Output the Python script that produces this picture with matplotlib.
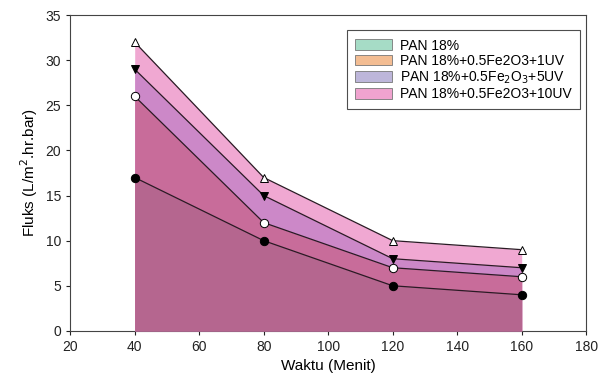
import numpy as np
import matplotlib.pyplot as plt
from matplotlib.patches import Patch

plt.rcParams['font.family'] = ['Liberation Sans', 'DejaVu Sans']

waktu = [40, 80, 120, 160]
labels = ['PAN 18%', 'PAN 18%+0.5Fe2O3+1UV', 'PAN 18%+0.5Fe$_2$O$_3$+5UV',
          'PAN 18%+0.5Fe2O3+10UV']
fluks_pan = [17, 10, 5, 4]
fluks_1uv = [26, 12, 7, 6]
fluks_5uv = [29, 15, 8, 7]
fluks_10uv = [32, 17, 10, 9]

fill_colors = ['#b5668f', '#c86c9a', '#cc88c8', '#f0a8d2']
legend_colors = ['#a6dcc6', '#f3bd93', '#bdb6da', '#f0a3cf']
markers = [('o', 'black'), ('o', 'white'), ('v', 'black'), ('^', 'white')]
series = [fluks_pan, fluks_1uv, fluks_5uv, fluks_10uv]

fig = plt.figure(figsize=(6, 3.87), dpi=100)
ax = fig.add_axes([0.117, 0.145, 0.86, 0.816])

# lower areas sit on top of the higher ones
for i in range(4):
    ax.fill_between(waktu, 0, series[i], color=fill_colors[i], lw=0, zorder=5 - i)
for i in range(4):
    m, fc = markers[i]
    ax.plot(waktu, series[i], color='#2a1a24', lw=0.9, marker=m, ms=6,
            mfc=fc, mec='black', mew=0.7, zorder=20 - i, clip_on=False)

ax.set_xlim(20, 180)
ax.set_ylim(0, 35)
ax.set_xticks(range(20, 181, 20))
ax.set_yticks(range(0, 36, 5))
ax.tick_params(direction='out', length=3, width=0.8, labelsize=10, colors='#222222')
for s in ax.spines.values():
    s.set_color('#444444')
    s.set_linewidth(0.8)

ax.set_xlabel('Waktu (Menit)', fontsize=11)
ax.set_ylabel('Fluks (L/m$^2$.hr.bar)', fontsize=11)

handles = [Patch(facecolor=c, edgecolor='#777777', lw=0.6) for c in legend_colors]
leg = ax.legend(handles, labels, loc='upper right', bbox_to_anchor=(0.988, 0.952),
                borderaxespad=0, fontsize=10, frameon=True, fancybox=False,
                handlelength=2.6, handleheight=0.8, labelspacing=0.1,
                borderpad=0.6, handletextpad=0.6)
leg.get_frame().set_edgecolor('#222222')
leg.get_frame().set_linewidth(0.8)
leg.set_zorder(30)

fig.savefig('out.png', dpi=100)
